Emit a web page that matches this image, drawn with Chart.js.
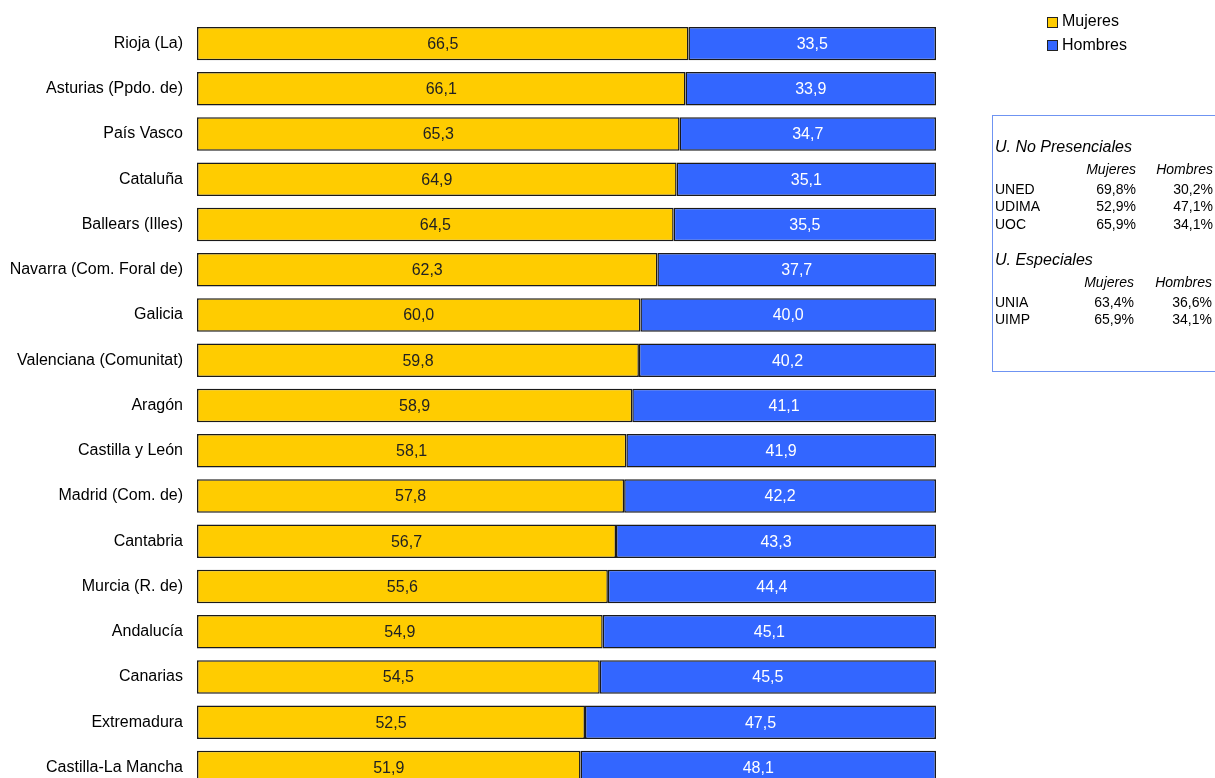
<!DOCTYPE html>
<html>
<head>
<meta charset="utf-8">
<script src="https://cdn.jsdelivr.net/npm/chart.js@4/dist/chart.umd.min.js"></script>
<style>
  html, body { margin: 0; padding: 0; background: #fff; overflow: hidden; }
  body { width: 1215px; height: 778px; position: relative; font-family: Arial, "Liberation Sans", sans-serif; color: #000; }
  #wrap { position: absolute; left: 0; top: -3px; width: 1215px; height: 818px; }
  .lg { position: absolute; left: 1062px; font-size: 16px; line-height: 16px; }
  .sw { position: absolute; left: 1047px; width: 9px; height: 9px; border: 1px solid #222; }
  #box { position: absolute; left: 992px; top: 115px; width: 240px; height: 255px; border: 1.5px solid #6f94f2; }
  .c { position: absolute; font-size: 14px; line-height: 14px; white-space: nowrap; }
  .r { text-align: right; width: 60px; }
  .i { font-style: italic; }
  .t { font-size: 16px; line-height: 16px; font-style: italic; }
</style>
</head>
<body>
<div id="wrap"><canvas id="chart" width="1215" height="818"></canvas></div>
<div class="sw" style="top:17px; background:#ffcc00"></div><div class="lg" style="top:13px">Mujeres</div>
<div class="sw" style="top:40px; background:#3366ff"></div><div class="lg" style="top:37px">Hombres</div>
<div id="box"></div>
<div id="tabla"></div>
<script>
const regiones = [
  'Rioja (La)', 'Asturias (Ppdo. de)', 'País Vasco', 'Cataluña', 'Ballears (Illes)',
  'Navarra (Com. Foral de)', 'Galicia', 'Valenciana (Comunitat)', 'Aragón',
  'Castilla y León', 'Madrid (Com. de)', 'Cantabria', 'Murcia (R. de)',
  'Andalucía', 'Canarias', 'Extremadura', 'Castilla-La Mancha'
];
const mujeres = [66.5, 66.1, 65.3, 64.9, 64.5, 62.3, 60.0, 59.8, 58.9, 58.1, 57.8, 56.7, 55.6, 54.9, 54.5, 52.5, 51.9];
const hombres = [33.5, 33.9, 34.7, 35.1, 35.5, 37.7, 40.0, 40.2, 41.1, 41.9, 42.2, 43.3, 44.4, 45.1, 45.5, 47.5, 48.1];

// tabla lateral
const noPresenciales = ['UNED', 'UDIMA', 'UOC'];
const noPresMujeres = ['69,8%', '52,9%', '65,9%'];
const noPresHombres = ['30,2%', '47,1%', '34,1%'];
const especiales = ['UNIA', 'UIMP'];
const espMujeres = ['63,4%', '65,9%'];
const espHombres = ['36,6%', '34,1%'];

const tabla = document.getElementById('tabla');
const cell = (txt, cls, left, top) => {
  const d = document.createElement('div');
  d.className = 'c ' + cls;
  d.textContent = txt;
  d.style.left = left + 'px';
  d.style.top = top + 'px';
  tabla.appendChild(d);
};
const section = (title, names, m, h, top, mRight, hRight) => {
  cell(title, 't', 995, top);
  cell('Mujeres', 'r i', mRight - 60, top + 23);
  cell('Hombres', 'r i', hRight - 60, top + 23);
  names.forEach((n, i) => {
    const y = top + 43 + i * 17.3;
    cell(n, '', 995, y);
    cell(m[i], 'r', mRight - 60, y);
    cell(h[i], 'r', hRight - 60, y);
  });
};
section('U. No Presenciales', noPresenciales, noPresMujeres, noPresHombres, 139, 1136, 1213);
section('U. Especiales', especiales, espMujeres, espHombres, 252, 1134, 1212);

const fmt = (v) => v.toFixed(1).replace('.', ',');

const barLabels = {
  id: 'barLabels',
  afterDatasetsDraw(chart) {
    const ctx = chart.ctx;
    ctx.save();
    ctx.font = '16px Arial, "Liberation Sans", sans-serif';
    ctx.textAlign = 'center';
    ctx.textBaseline = 'middle';
    chart.data.datasets.forEach((ds, di) => {
      ctx.fillStyle = di === 0 ? '#222' : '#fff';
      chart.getDatasetMeta(di).data.forEach((bar, i) => {
        const x = (bar.x + bar.base) / 2;
        ctx.fillText(fmt(ds.data[i]), x, bar.y + 1);
      });
    });
    ctx.restore();
  }
};

new Chart(document.getElementById('chart'), {
  type: 'bar',
  data: {
    labels: regiones,
    datasets: [
      { label: 'Mujeres', data: mujeres, backgroundColor: '#ffcc00', borderColor: '#1a1a1a', borderWidth: 1.5, borderSkipped: false },
      { label: 'Hombres', data: hombres, backgroundColor: '#3366ff', borderColor: '#1a1a1a', borderWidth: 1.5, borderSkipped: false }
    ]
  },
  options: {
    indexAxis: 'y',
    responsive: false,
    animation: false,
    barPercentage: 0.74,
    categoryPercentage: 1,
    layout: { padding: { top: 24, bottom: 25, left: 0, right: 279 } },
    plugins: { legend: { display: false }, tooltip: { enabled: false } },
    scales: {
      x: { stacked: true, min: 0, max: 100, display: false },
      y: {
        stacked: true,
        grid: { display: false, drawTicks: false },
        border: { display: false },
        afterFit: (s) => { s.width = 197; },
        ticks: { color: '#000', padding: 14, font: { size: 16, family: 'Arial, "Liberation Sans", sans-serif' } }
      }
    }
  },
  plugins: [barLabels]
});
</script>
</body>
</html>
